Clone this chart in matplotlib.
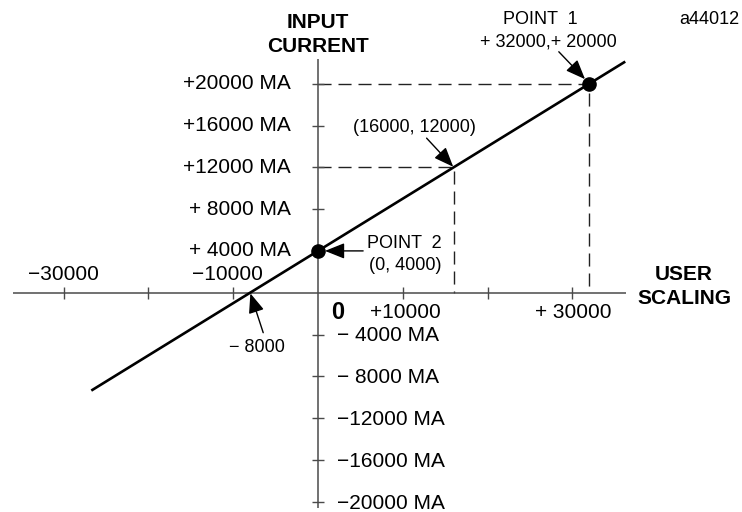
import matplotlib
matplotlib.use('Agg')
import matplotlib.pyplot as plt

plt.rcParams['font.family'] = ['Liberation Sans', 'DejaVu Sans']

# ---------------- data ----------------
point1 = (32000, 20000)          # POINT 1
point2 = (0, 4000)               # POINT 2
mid_point = (16000, 12000)       # intermediate point
zero_cross = -8000               # where line crosses the x axis
line_x = [-26600, 36100]         # drawn extent of scaling line
line_y = [-9300, 22050]

x_ticks = [-30000, -20000, -10000, 10000, 20000, 30000]
y_ticks = [-20000, -16000, -12000, -8000, -4000, 4000, 8000, 12000, 16000, 20000]
y_pos_labels = ['+ 4000 MA', '+ 8000 MA', '+12000 MA', '+16000 MA', '+20000 MA']
y_pos_values = [4000, 8000, 12000, 16000, 20000]
y_neg_labels = ['\u2212 4000 MA', '\u2212 8000 MA', '\u221212000 MA', '\u221216000 MA', '\u221220000 MA']
y_neg_values = [-4000, -8000, -12000, -16000, -20000]
x_top_labels = ['\u221230000', '\u221210000']
x_top_values = [-30000, -10000]
x_bot_labels = ['+10000', '+ 30000']
x_bot_values = [10000, 30000]

# ---------------- figure ----------------
W, H = 742, 512
fig = plt.figure(figsize=(W / 100, H / 100), dpi=100)
ax = fig.add_axes([0, 0, 1, 1])
ax.set_axis_off()

ox, oy = 318.0, 292.7            # origin in pixels
sx, sy = 0.00848, 0.01045        # px per unit
ax.set_xlim(-ox / sx, (W - ox) / sx)
ax.set_ylim(-(H - oy) / sy, oy / sy)

axis_col = '#4a4a4a'
# axes
ax.plot([-36000, 36300], [0, 0], color=axis_col, lw=1.1, solid_capstyle='butt', zorder=2)
ax.plot([0, 0], [-20650, 22350], color=axis_col, lw=1.1, solid_capstyle='butt', zorder=2)
# ticks
ax.plot(x_ticks, [0] * len(x_ticks), linestyle='none', marker='|', markersize=8,
        markeredgewidth=1.0, color=axis_col, zorder=2)
ax.plot([0] * len(y_ticks), y_ticks, linestyle='none', marker='_', markersize=8,
        markeredgewidth=1.0, color=axis_col, zorder=2)

# dashed guides
dash = (0, (9.4, 5.0))
for px, py in [point1, mid_point]:
    ax.plot([0, px, px], [py, py, 0], color='#222222', lw=1.0, linestyle=dash, zorder=1)

# scaling line
ax.plot(line_x, line_y, color='black', lw=1.9, zorder=3)
# points
ax.plot([point1[0], point2[0]], [point1[1], point2[1]], 'o', color='black',
        markersize=9.5, zorder=4)

fs = 15
fs_s = 13
# y tick labels
for v, t in zip(y_pos_values, y_pos_labels):
    ax.annotate(t, (0, v), xytext=(-19.5, 0), textcoords='offset points',
                ha='right', va='center', fontsize=fs)
for v, t in zip(y_neg_values, y_neg_labels):
    ax.annotate(t, (0, v), xytext=(13.5, -1), textcoords='offset points',
                ha='left', va='center', fontsize=fs)
# x tick labels
for v, t, dx in zip(x_top_values, x_top_labels, [0, -4.5]):
    ax.annotate(t, (v, 0), xytext=(dx, 13), textcoords='offset points',
                ha='center', va='center', fontsize=fs)
for v, t, dx in zip(x_bot_values, x_bot_labels, [2, 0.5]):
    ax.annotate(t, (v, 0), xytext=(dx, -14.5), textcoords='offset points',
                ha='center', va='center', fontsize=fs)

# origin "0"
ax.annotate('0', (0, 0), xytext=(14.5, -14.5), textcoords='offset points',
            ha='center', va='center', fontsize=17, fontweight='bold')

# axis titles
ax.annotate('INPUT', (0, 0), xycoords='data', xytext=(317.5, H - 23),
            textcoords='figure pixels', ha='center', va='center',
            fontsize=fs, fontweight='bold')
ax.annotate('CURRENT', (0, 0), xycoords='data', xytext=(317.5, H - 46),
            textcoords='figure pixels', ha='center', va='center',
            fontsize=fs, fontweight='bold')
ax.annotate('USER', (0, 0), xytext=(684, H - 275), textcoords='figure pixels',
            ha='center', va='center', fontsize=fs, fontweight='bold')
ax.annotate('SCALING', (0, 0), xytext=(684, H - 298), textcoords='figure pixels',
            ha='center', va='center', fontsize=fs, fontweight='bold')
ax.annotate('a44012', (0, 0), xytext=(739, H - 19), textcoords='figure pixels',
            ha='right', va='center', fontsize=fs_s)

aprops = dict(arrowstyle='-|>,head_length=0.75,head_width=0.3', mutation_scale=16,
              color='black', lw=1.0, shrinkA=0)

# POINT 1
ax.annotate('', point1, xytext=(-22, 23), textcoords='offset points',
            arrowprops=dict(aprops, shrinkB=4.5))
ax.annotate('POINT  1', point1, xytext=(-35, 46), textcoords='offset points',
            ha='center', va='center', fontsize=fs_s)
ax.annotate('+ 32000,+ 20000', point1, xytext=(-29.5, 30), textcoords='offset points',
            ha='center', va='center', fontsize=fs_s)

# mid point
ax.annotate('', mid_point, xytext=(-19.5, 21), textcoords='offset points',
            arrowprops=dict(aprops, shrinkB=0.5))
ax.annotate('(16000, 12000)', mid_point, xytext=(-28, 29), textcoords='offset points',
            ha='center', va='center', fontsize=fs_s)

# POINT 2
ax.annotate('', point2, xytext=(32.5, 0), textcoords='offset points',
            arrowprops=dict(aprops, shrinkB=5))
ax.annotate('POINT  2', point2, xytext=(35.5, 5.5), textcoords='offset points',
            ha='left', va='center', fontsize=fs_s)
ax.annotate('(0, 4000)', point2, xytext=(37, -10.5), textcoords='offset points',
            ha='left', va='center', fontsize=fs_s)

# -8000 crossing
ax.annotate('', (zero_cross, 0), xytext=(9.4, -28.8), textcoords='offset points',
            arrowprops=dict(aprops, shrinkB=0.5))
ax.annotate('\u2212 8000', (zero_cross, 0), xytext=(5, -39.5), textcoords='offset points',
            ha='center', va='center', fontsize=fs_s)

fig.savefig('out.png', dpi=100, facecolor='white')
